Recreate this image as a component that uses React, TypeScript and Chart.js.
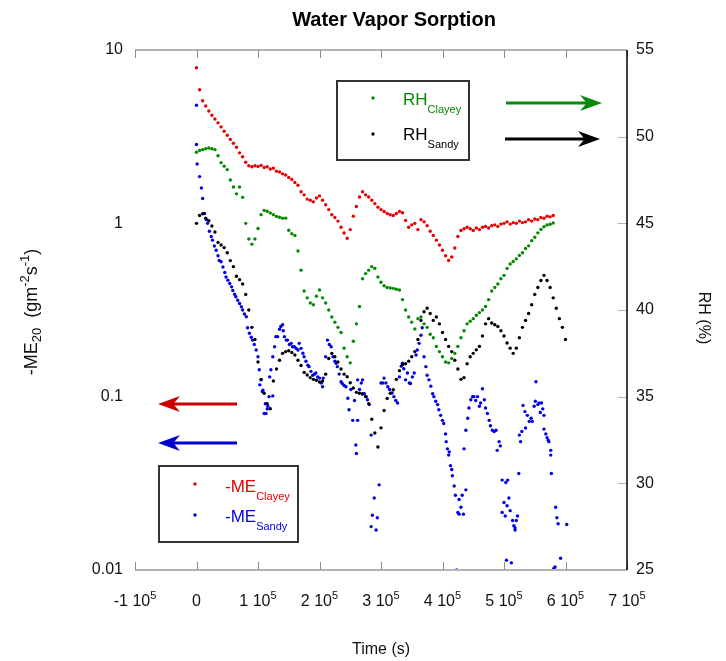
import React, { useEffect, useRef } from 'react';
import { Chart, registerables } from 'chart.js';

Chart.register(...registerables);

const FONT = "'Liberation Sans', Arial, sans-serif";

// time stamps in kiloseconds (every 5 ks)
const timeKs = [
  0, 5, 10, 15, 20, 25, 30, 35, 40, 45,
  50, 55, 60, 65, 70, 75, 80, 85, 90, 95,
  100, 105, 110, 115, 120, 125, 130, 135, 140, 145,
  150, 155, 160, 165, 170, 175, 180, 185, 190, 195,
  200, 205, 210, 215, 220, 225, 230, 235, 240, 245,
  250, 255, 260, 265, 270, 275, 280, 285, 290, 295,
  300, 305, 310, 315, 320, 325, 330, 335, 340, 345,
  350, 355, 360, 365, 370, 375, 380, 385, 390, 395,
  400, 405, 410, 415, 420, 425, 430, 435, 440, 445,
  450, 455, 460, 465, 470, 475, 480, 485, 490, 495,
  500, 505, 510, 515, 520, 525, 530, 535, 540, 545,
  550, 555, 560, 565, 570, 575, 580, 585, 590, 595,
  600,
];

// -ME Clayey (g m-2 s-1), left log axis, t = 0..580 ks
const meClayey = [
  7.9, 5.9, 5.1, 4.75, 4.45, 4.2, 4.0, 3.8, 3.6, 3.4,
  3.22, 3.05, 2.9, 2.75, 2.55, 2.42, 2.25, 2.15, 2.12, 2.15,
  2.13, 2.16, 2.1, 2.12, 2.06, 2.08, 2.0, 1.98, 1.93, 1.9,
  1.84, 1.79, 1.72, 1.66, 1.52, 1.46, 1.38, 1.36, 1.33, 1.4,
  1.44, 1.36, 1.28, 1.2, 1.12, 1.08, 1.03, 0.95, 0.88, 0.82,
  0.92, 1.1, 1.25, 1.42, 1.52, 1.46, 1.42, 1.36, 1.3, 1.24,
  1.2, 1.17, 1.14, 1.12, 1.11, 1.14, 1.17, 1.15, 1.04, 0.95,
  0.98, 1.0, 0.92, 1.05, 1.02, 0.97, 0.9, 0.85, 0.8, 0.75,
  0.7, 0.65, 0.61, 0.64, 0.72, 0.84, 0.91, 0.93, 0.95, 0.93,
  0.91, 0.94, 0.92, 0.95, 0.96, 0.94, 0.97, 0.98, 0.96, 0.99,
  1.0, 1.02, 0.99, 1.01, 1.0, 1.03, 1.01, 1.02, 1.05, 1.03,
  1.06, 1.05, 1.08, 1.07, 1.1, 1.09, 1.11,
];

// RH Clayey (%), right axis, t = 0..580 ks
const rhClayey = [
  49.1, 49.2, 49.25, 49.3, 49.35, 49.3, 49.25, 48.9, 48.5, 48.3,
  48.1, 47.5, 47.1, 46.7, 47.1, 46.5, 45.0, 44.1, 43.8, 44.1,
  44.7, 45.5, 45.75, 45.7, 45.6, 45.5, 45.4, 45.35, 45.3, 45.3,
  44.6, 44.4, 44.3, 43.4, 42.3, 41.1, 40.7, 40.4, 40.3, 40.8,
  41.15, 40.7, 40.4, 40.0, 39.6, 39.3, 39.0, 38.7, 37.8, 37.3,
  36.95, 38.2, 39.2, 40.2, 41.8, 42.1, 42.3, 42.5, 42.4, 41.9,
  41.6, 41.4, 41.3, 41.27, 41.25, 41.2, 41.15, 40.6, 40.0, 39.6,
  39.3, 38.9, 39.5, 39.6, 39.2, 39.0, 38.6, 38.4, 37.9, 37.6,
  37.3, 37.0, 36.95, 37.2, 37.5, 37.9, 38.4, 38.8, 39.2, 39.35,
  39.5, 39.7, 39.85, 40.0, 40.2, 40.6, 41.1, 41.3, 41.5, 41.8,
  42.0, 42.4, 42.65, 42.8, 42.95, 43.15, 43.3, 43.55, 43.7, 44.0,
  44.2, 44.45, 44.65, 44.8, 44.9, 44.95, 45.02,
];

// RH Sandy (%), right axis, t = 0..600 ks
const rhSandy = [
  45.0, 45.45, 45.55, 45.3, 45.15, 44.85, 44.5, 43.9, 43.75, 43.6,
  43.3, 42.85, 42.5, 41.95, 41.75, 41.5, 40.9, 40.0, 39.0, 38.3,
  37.0, 36.0, 35.2, 34.6, 34.3, 35.9, 36.6, 37.1, 37.5, 37.6,
  37.65, 37.55, 37.4, 37.1, 36.8, 36.4, 36.25, 36.1, 36.0, 35.95,
  35.85, 35.9, 36.3, 37.2, 37.5, 37.3, 37.0, 36.6, 36.3, 36.15,
  35.8, 35.5, 35.25, 35.2, 35.15, 35.0, 34.6, 33.7, 32.9, 32.1,
  33.2, 34.2, 34.9, 35.2, 35.4, 36.0, 36.5, 36.85, 36.9, 37.05,
  37.3, 37.6, 38.3, 39.4, 39.9, 40.1, 39.8, 39.4, 39.6, 39.2,
  38.7, 38.3, 37.9, 37.6, 37.1, 36.6, 36.0, 36.1, 36.9, 37.3,
  37.5, 37.7, 37.9, 38.5, 39.2, 39.5, 39.25, 39.15, 39.05, 38.8,
  38.5, 38.1, 37.8, 37.5, 37.8, 38.4, 39.0, 39.4, 39.8, 40.3,
  40.9, 41.3, 41.7, 42.0, 41.7, 41.3, 40.7, 40.1, 39.5, 39.0,
  38.3,
];

// -ME Sandy: [time ks, value], left log axis (scattered)
const meSandyPoints: [number, number][] = [
  [0, 4.8], [0, 2.85], [1, 2.2], [5, 1.86], [8, 1.6], [10, 1.39], [13, 1.14], [16, 1.05], [18, 1.0], [21, 0.9],
  [24, 0.84], [26, 0.8], [29, 0.74], [32, 0.7], [35, 0.65], [37, 0.61], [40, 0.6], [43, 0.56], [46, 0.52], [48, 0.49],
  [51, 0.47], [54, 0.45], [57, 0.43], [59, 0.41], [62, 0.39], [64, 0.377], [67, 0.36], [70, 0.345], [73, 0.33], [75, 0.316],
  [78, 0.3], [81, 0.289], [83, 0.25], [86, 0.232], [89, 0.22], [91, 0.212], [94, 0.2], [97, 0.186], [100, 0.17], [102, 0.143],
  [103, 0.117], [105, 0.125], [107, 0.107], [108, 0.109], [110, 0.08], [112, 0.091], [113, 0.08], [115, 0.085], [116, 0.088], [118, 0.1],
  [119, 0.13], [121, 0.143], [124, 0.101], [124, 0.17], [127, 0.194], [129, 0.222], [132, 0.222], [135, 0.245], [137, 0.254], [140, 0.26],
  [141, 0.24], [143, 0.222], [146, 0.212], [148, 0.212], [151, 0.2], [154, 0.203], [156, 0.194], [159, 0.194], [162, 0.19], [165, 0.186],
  [167, 0.203], [170, 0.19], [173, 0.178], [175, 0.17], [178, 0.16], [181, 0.152], [183, 0.149], [186, 0.14], [189, 0.133], [192, 0.135],
  [194, 0.137], [197, 0.13], [200, 0.128], [203, 0.12], [205, 0.114], [206, 0.128], [210, 0.17], [213, 0.212], [216, 0.2], [219, 0.194],
  [222, 0.17], [225, 0.16], [227, 0.156], [229, 0.149], [232, 0.135], [235, 0.122], [237, 0.119], [240, 0.116], [243, 0.114], [246, 0.098],
  [248, 0.084], [251, 0.11], [254, 0.073], [257, 0.095], [259, 0.0526], [260, 0.047], [262, 0.073], [262, 0.125], [265, 0.11], [268, 0.12],
  [270, 0.104], [270, 0.125], [273, 0.104], [276, 0.1], [278, 0.096], [281, 0.09], [284, 0.06], [284, 0.0178], [286, 0.0207], [289, 0.026],
  [292, 0.017], [294, 0.02], [297, 0.031], [300, 0.12], [303, 0.12], [305, 0.128], [308, 0.12], [311, 0.114], [314, 0.11], [318, 0.105],
  [321, 0.1], [324, 0.095], [327, 0.092], [330, 0.13], [333, 0.15], [335, 0.156], [337, 0.145], [340, 0.125], [343, 0.137], [346, 0.12],
  [348, 0.119], [351, 0.13], [354, 0.137], [357, 0.174], [359, 0.186], [362, 0.203], [365, 0.226], [367, 0.25], [370, 0.17], [373, 0.149],
  [375, 0.133], [378, 0.125], [381, 0.115], [384, 0.104], [386, 0.1], [389, 0.094], [392, 0.09], [394, 0.084], [397, 0.078], [400, 0.073],
  [402, 0.07], [405, 0.061], [406, 0.055], [408, 0.05], [410, 0.046], [411, 0.048], [413, 0.04], [415, 0.038], [416, 0.035], [419, 0.0305],
  [421, 0.027], [423, 0.01], [425, 0.0215], [427, 0.0255], [427, 0.021], [430, 0.023], [432, 0.027], [434, 0.021], [435, 0.05], [438, 0.029],
  [438, 0.064], [441, 0.075], [443, 0.086], [446, 0.096], [449, 0.1], [451, 0.1], [454, 0.095], [457, 0.1], [460, 0.088], [462, 0.092],
  [465, 0.111], [468, 0.096], [470, 0.086], [473, 0.08], [476, 0.073], [478, 0.068], [481, 0.064], [484, 0.063], [487, 0.064], [489, 0.049],
  [492, 0.055], [494, 0.052], [497, 0.033], [497, 0.0215], [500, 0.0245], [502, 0.0205], [503, 0.032], [505, 0.0235], [506, 0.033], [508, 0.026],
  [504, 0.0114], [510, 0.022], [512, 0.011], [514, 0.0193], [516, 0.018], [518, 0.0175], [518, 0.017], [520, 0.0193], [522, 0.0205], [524, 0.036],
  [525, 0.06], [527, 0.055], [529, 0.063], [531, 0.089], [534, 0.082], [535, 0.066], [538, 0.078], [541, 0.072], [544, 0.075], [546, 0.072],
  [549, 0.088], [551, 0.094], [552, 0.122], [555, 0.09], [557, 0.092], [559, 0.081], [561, 0.092], [563, 0.085], [565, 0.078], [565, 0.065],
  [568, 0.061], [570, 0.058], [572, 0.056], [573, 0.055], [576, 0.049], [576, 0.046], [577, 0.036], [581, 0.0102], [583, 0.0104], [584, 0.023],
  [586, 0.02], [588, 0.0185], [592, 0.0117], [602, 0.0183],
];

const xTickValues = [-100000, 0, 100000, 200000, 300000, 400000, 500000, 600000, 700000];
const leftTickValues = [0.01, 0.1, 1, 10];
const leftTickLabels = ['0.01', '0.1', '1', '10'];
const rightTickValues = [25, 30, 35, 40, 45, 50, 55];

const TITLE = 'Water Vapor Sorption';
const X_TITLE = 'Time (s)';
const Y_RIGHT_TITLE = 'RH (%)';

const COLORS = {
  red: '#e60000',
  blue: '#0000e6',
  green: '#008a00',
  black: '#000000',
};

type Run = { t: string; size: number; dy: number };

function runsWidth(ctx: CanvasRenderingContext2D, runs: Run[]) {
  let w = 0;
  for (const r of runs) {
    ctx.font = `${r.size}px ${FONT}`;
    w += ctx.measureText(r.t).width;
  }
  return w;
}

function drawRuns(ctx: CanvasRenderingContext2D, runs: Run[], x: number, y: number) {
  let cx = x;
  for (const r of runs) {
    ctx.font = `${r.size}px ${FONT}`;
    ctx.fillText(r.t, cx, y + r.dy);
    cx += ctx.measureText(r.t).width;
  }
}

function line(ctx: CanvasRenderingContext2D, x1: number, y1: number, x2: number, y2: number) {
  ctx.beginPath();
  ctx.moveTo(x1, y1);
  ctx.lineTo(x2, y2);
  ctx.stroke();
}

function arrow(ctx: CanvasRenderingContext2D, x1: number, x2: number, y: number, color: string) {
  const dir = Math.sign(x2 - x1);
  const headLen = 22;
  const headHalf = 8;
  ctx.strokeStyle = color;
  ctx.fillStyle = color;
  ctx.lineWidth = 3;
  line(ctx, x1, y, x2 - dir * headLen * 0.6, y);
  ctx.beginPath();
  ctx.moveTo(x2, y);
  ctx.lineTo(x2 - dir * headLen, y - headHalf);
  ctx.lineTo(x2 - dir * headLen * 0.7, y);
  ctx.lineTo(x2 - dir * headLen, y + headHalf);
  ctx.closePath();
  ctx.fill();
}

const overlayPlugin = {
  id: 'overlay',
  afterDraw(chart: any) {
    const { ctx, chartArea: a, scales } = chart;
    const xs = scales.x;
    const yr = scales.yR;
    ctx.save();

    // frame
    ctx.strokeStyle = '#b4b4b4';
    ctx.lineWidth = 2;
    line(ctx, a.left, a.top, a.right, a.top);
    line(ctx, a.left, a.bottom, a.right, a.bottom);

    // x tick marks (inside, top and bottom)
    ctx.strokeStyle = '#8c8c8c';
    ctx.lineWidth = 1;
    for (const v of xTickValues) {
      const px = Math.round(xs.getPixelForValue(v)) + 0.5;
      line(ctx, px, a.top, px, a.top + 8);
      line(ctx, px, a.bottom, px, a.bottom - 8);
    }
    // right tick marks
    ctx.strokeStyle = '#b4b4b4';
    for (const v of rightTickValues) {
      const py = Math.round(yr.getPixelForValue(v)) + 0.5;
      line(ctx, a.right - 9, py, a.right, py);
    }
    // right axis line
    ctx.strokeStyle = '#000';
    ctx.lineWidth = 1.5;
    line(ctx, a.right, a.top, a.right, a.bottom);

    // x tick labels with superscript
    ctx.fillStyle = '#111';
    ctx.textAlign = 'left';
    ctx.textBaseline = 'alphabetic';
    for (const v of xTickValues) {
      const px = xs.getPixelForValue(v);
      const runs: Run[] = v === 0
        ? [{ t: '0', size: 16, dy: 0 }]
        : [{ t: `${v / 100000} 10`, size: 16, dy: 0 }, { t: '5', size: 11, dy: -7 }];
      const w = runsWidth(ctx, runs);
      drawRuns(ctx, runs, px - w / 2, a.bottom + 36);
    }

    // title
    ctx.fillStyle = '#000';
    ctx.font = `bold 20px ${FONT}`;
    ctx.textAlign = 'center';
    ctx.fillText(TITLE, 394, 26);

    // x title
    ctx.font = `16px ${FONT}`;
    ctx.fillStyle = '#111';
    ctx.fillText(X_TITLE, (a.left + a.right) / 2, 654);

    // left y title (rotated)
    ctx.textAlign = 'left';
    const leftRuns: Run[] = [
      { t: '-ME', size: 18, dy: 0 },
      { t: '20', size: 13, dy: 4 },
      { t: '  (gm', size: 18, dy: 0 },
      { t: '-2', size: 13, dy: -8 },
      { t: 's', size: 18, dy: 0 },
      { t: '-1', size: 13, dy: -8 },
      { t: ')', size: 18, dy: 0 },
    ];
    ctx.save();
    ctx.translate(31, 312);
    ctx.rotate(-Math.PI / 2);
    const lw = runsWidth(ctx, leftRuns);
    drawRuns(ctx, leftRuns, -lw / 2, 6);
    ctx.restore();

    // right y title (rotated)
    ctx.save();
    ctx.translate(705, 318);
    ctx.rotate(Math.PI / 2);
    ctx.font = `16px ${FONT}`;
    ctx.textAlign = 'center';
    ctx.fillText(Y_RIGHT_TITLE, 0, 6);
    ctx.restore();

    // legend box RH
    ctx.textAlign = 'left';
    ctx.strokeStyle = '#333';
    ctx.lineWidth = 2;
    ctx.strokeRect(337, 81, 132, 79);
    ctx.fillStyle = COLORS.green;
    ctx.beginPath(); ctx.arc(373, 98, 1.7, 0, Math.PI * 2); ctx.fill();
    drawRuns(ctx, [{ t: 'RH', size: 17, dy: 0 }, { t: 'Clayey', size: 11, dy: 8 }], 403, 105);
    ctx.fillStyle = COLORS.black;
    ctx.beginPath(); ctx.arc(373, 134, 1.7, 0, Math.PI * 2); ctx.fill();
    drawRuns(ctx, [{ t: 'RH', size: 17, dy: 0 }, { t: 'Sandy', size: 11, dy: 8 }], 403, 140);

    // legend box ME
    ctx.strokeStyle = '#333';
    ctx.strokeRect(159, 466, 139, 76);
    ctx.fillStyle = COLORS.red;
    ctx.beginPath(); ctx.arc(195, 484, 1.7, 0, Math.PI * 2); ctx.fill();
    drawRuns(ctx, [{ t: '-ME', size: 17, dy: 0 }, { t: 'Clayey', size: 11, dy: 8 }], 225, 492);
    ctx.fillStyle = COLORS.blue;
    ctx.beginPath(); ctx.arc(195, 515, 1.7, 0, Math.PI * 2); ctx.fill();
    drawRuns(ctx, [{ t: '-ME', size: 17, dy: 0 }, { t: 'Sandy', size: 11, dy: 8 }], 225, 522);

    // arrows
    arrow(ctx, 506, 602, 103, '#0a8a0a');
    arrow(ctx, 505, 600, 139, '#000');
    arrow(ctx, 237, 158, 404, '#c80000');
    arrow(ctx, 237, 158, 443, '#0000cc');

    ctx.restore();
  },
};

export default function App() {
  const canvasRef = useRef<HTMLCanvasElement | null>(null);

  useEffect(() => {
    if (!canvasRef.current) return;
    const pts = (vals: number[]) => vals.map((v, i) => ({ x: timeKs[i] * 1000, y: v }));
    const common = { pointRadius: 1.7, pointHoverRadius: 1.7, pointBorderWidth: 0, showLine: false };
    const chart = new Chart(canvasRef.current, {
      type: 'scatter',
      data: {
        datasets: [
          { label: '-ME Clayey', data: pts(meClayey), yAxisID: 'yL', backgroundColor: COLORS.red, borderColor: COLORS.red, ...common },
          { label: 'RH Clayey', data: pts(rhClayey), yAxisID: 'yR', backgroundColor: COLORS.green, borderColor: COLORS.green, ...common },
          { label: 'RH Sandy', data: pts(rhSandy), yAxisID: 'yR', backgroundColor: COLORS.black, borderColor: COLORS.black, ...common },
          {
            label: '-ME Sandy',
            data: meSandyPoints.map(([t, v]) => ({ x: t * 1000, y: v })),
            yAxisID: 'yL', backgroundColor: COLORS.blue, borderColor: COLORS.blue, ...common,
          },
        ],
      },
      options: {
        animation: false,
        responsive: true,
        maintainAspectRatio: false,
        events: [],
        layout: { padding: { top: 50, left: 0, right: 0, bottom: 0 } },
        plugins: { legend: { display: false }, tooltip: { enabled: false }, title: { display: false } },
        scales: {
          x: {
            type: 'linear',
            min: -100000,
            max: 700000,
            ticks: { display: false, stepSize: 100000 },
            grid: { display: false, drawTicks: false },
            border: { display: false },
            afterFit: (s: any) => { s.height = 91; },
          },
          yL: {
            type: 'logarithmic',
            position: 'left',
            min: 0.01,
            max: 10,
            afterBuildTicks: (s: any) => { s.ticks = leftTickValues.map((v) => ({ value: v })); },
            ticks: {
              padding: 12,
              color: '#111',
              font: { size: 16, family: FONT },
              callback: (v: any) => {
                const i = leftTickValues.indexOf(Number(v));
                return i >= 0 ? leftTickLabels[i] : '';
              },
            },
            grid: { display: false, drawTicks: false },
            border: { display: false },
            afterFit: (s: any) => { s.width = 135; },
          },
          yR: {
            type: 'linear',
            position: 'right',
            min: 25,
            max: 55,
            afterBuildTicks: (s: any) => { s.ticks = rightTickValues.map((v) => ({ value: v })); },
            ticks: { padding: 9, color: '#111', font: { size: 16, family: FONT } },
            grid: { display: false, drawTicks: false },
            border: { display: false },
            afterFit: (s: any) => { s.width = 99; },
          },
        },
      },
      plugins: [overlayPlugin],
    } as any);
    return () => chart.destroy();
  }, []);

  return (
    <div style={{ position: 'fixed', left: 0, top: 0, width: 726, height: 661, background: '#fff' }}>
      <canvas ref={canvasRef} />
    </div>
  );
}
